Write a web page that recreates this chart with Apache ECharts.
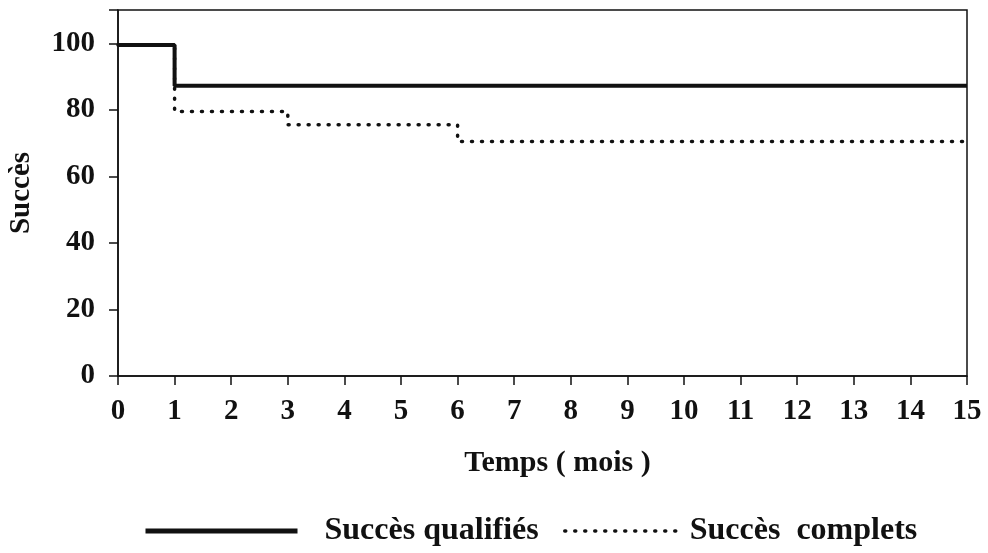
<!DOCTYPE html>
<html><head><meta charset="utf-8">
<script src="https://cdn.jsdelivr.net/npm/echarts@6/dist/echarts.min.js"></script>
<style>html,body{margin:0;padding:0;background:#fff}#c{width:988px;height:553px}</style>
</head><body><div id="c"></div>
<script>
const xTicks = [0,1,2,3,4,5,6,7,8,9,10,11,12,13,14,15];
const yTicks = [0,20,40,60,80,100];
const qualifies = [[0,99.5],[1,87.2],[15,87.2]];
const complets = [[0,99.5],[1,79.5],[3,75.5],[6,70.5],[15,70.5]];
const seriesNames = ['Succès qualifiés','Succès complets'];

const font = '"Liberation Serif","Times New Roman",serif';
const dotted = {color:'#111',width:3.5,type:[1,9],cap:'round'};
const chart = echarts.init(document.getElementById('c'));
chart.setOption({
  animation:false,
  backgroundColor:'#fff',
  grid:{left:118,right:21,top:10,bottom:177,containLabel:false,outerBoundsMode:'none',
    show:true,borderColor:'#111',borderWidth:1.5,backgroundColor:'transparent'},
  xAxis:{type:'value',min:0,max:15,interval:1,
    name:'Temps ( mois )',nameLocation:'middle',nameGap:72,
    nameTextStyle:{fontFamily:font,fontWeight:'bold',fontSize:30,color:'#111',padding:[0,0,0,30]},
    axisLine:{lineStyle:{color:'#111',width:1.5}},
    axisTick:{show:true,length:9,lineStyle:{color:'#111',width:1.5}},
    axisLabel:{margin:21,fontFamily:font,fontWeight:'bold',fontSize:29,color:'#111',
      formatter:v=>xTicks.includes(v)?String(v):''},
    splitLine:{show:false}},
  yAxis:{type:'value',min:0,max:110,interval:20,
    name:'Succès',nameLocation:'middle',nameGap:82,
    nameTextStyle:{fontFamily:font,fontWeight:'bold',fontSize:29,color:'#111'},
    axisLine:{show:true,lineStyle:{color:'#111',width:1.5}},
    axisTick:{show:true,length:9,lineStyle:{color:'#111',width:1.5}},
    axisLabel:{margin:23,fontFamily:font,fontWeight:'bold',fontSize:29,color:'#111',
      formatter:v=>yTicks.includes(v)?String(v):''},
    splitLine:{show:false}},
  legend:[
    {data:[seriesNames[0]],left:138,top:510,itemWidth:152,itemHeight:36,itemGap:0,
     itemStyle:{opacity:0},lineStyle:{width:5},
     textStyle:{fontFamily:font,fontWeight:'bold',fontSize:32,color:'#111',padding:[0,0,0,22]}},
    {data:[seriesNames[1]],left:558,top:510,itemWidth:114,itemHeight:36,
     itemStyle:{opacity:0},lineStyle:dotted,
     formatter:n=>n.replace(' ','  '),
     textStyle:{fontFamily:font,fontWeight:'bold',fontSize:32,color:'#111',padding:[0,0,0,6]}}
  ],
  series:[
    {name:seriesNames[0],type:'line',step:'end',data:qualifies,symbol:'none',z:3,
     lineStyle:{color:'#111',width:4},itemStyle:{color:'#111'}},
    {name:seriesNames[1],type:'line',step:'end',data:complets,symbol:'none',z:2,
     lineStyle:dotted,itemStyle:{color:'#111'}}
  ]
});
</script></body></html>
